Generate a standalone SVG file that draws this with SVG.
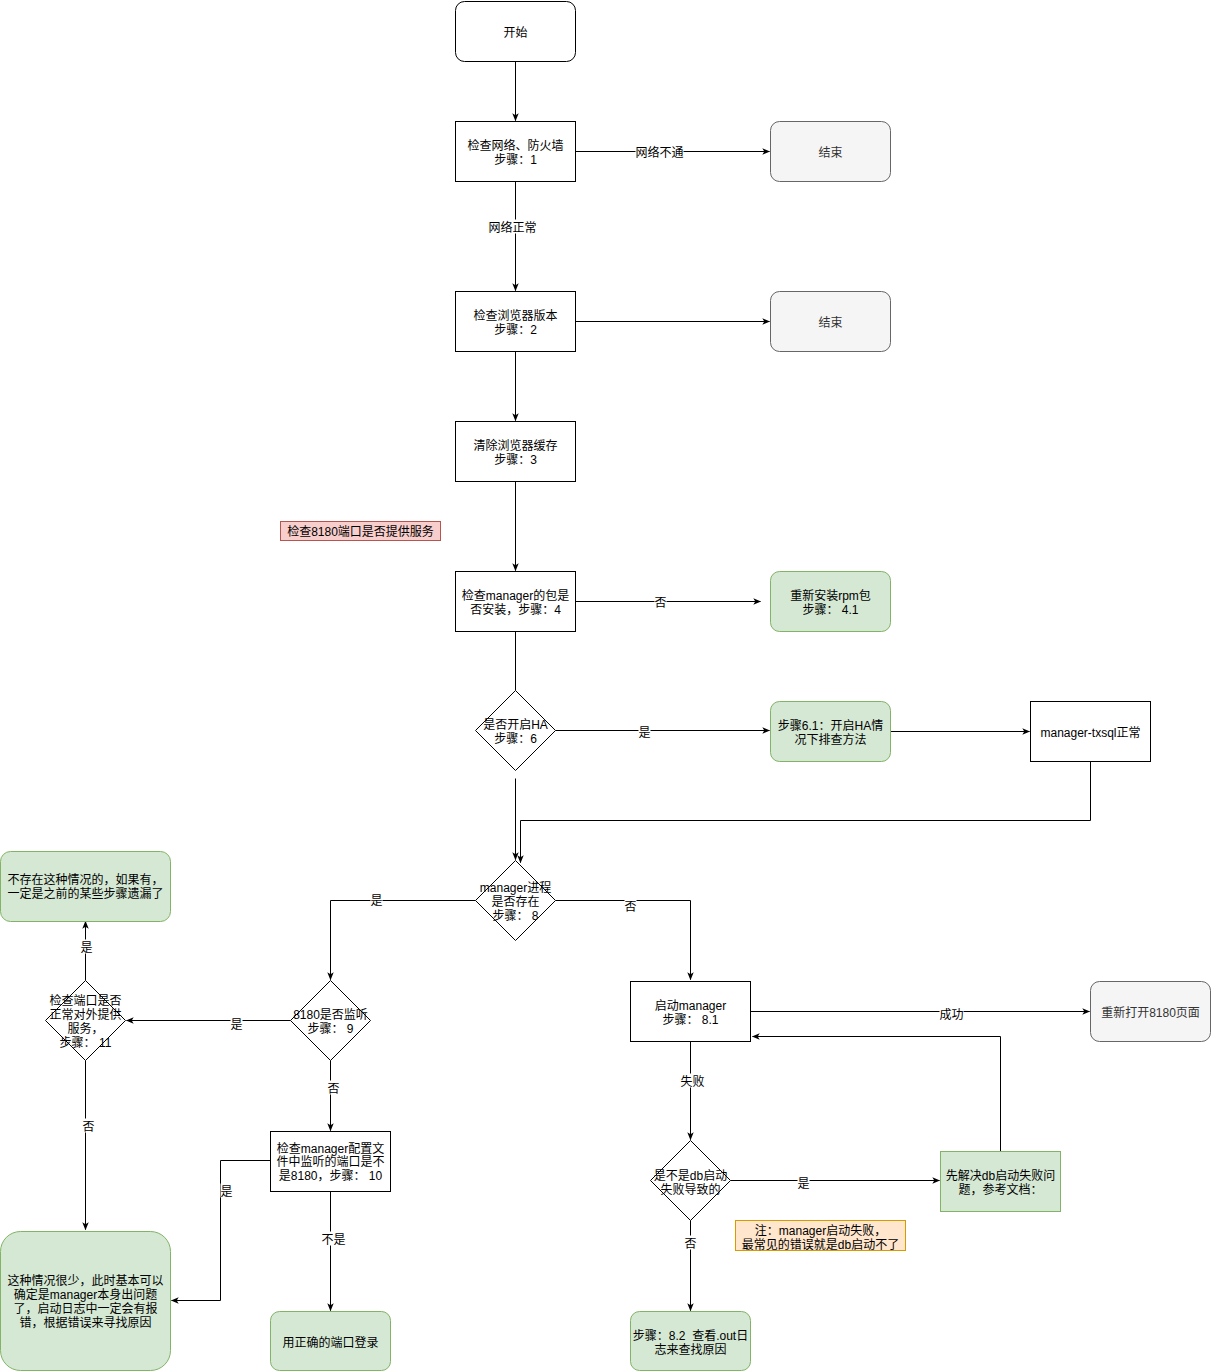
<svg xmlns="http://www.w3.org/2000/svg" width="1211" height="1371" viewBox="0 0 1211 1371">
<style>
text{font-family:"Liberation Sans","Noto Sans CJK SC",sans-serif;font-size:12px;fill:#000;text-anchor:middle;dominant-baseline:central}
.box{fill:#fff;stroke:#000;stroke-width:1}
.grn{fill:#d5e8d4;stroke:#82b366;stroke-width:1}
.gry{fill:#f5f5f5;stroke:#666;stroke-width:1}
.gt{fill:#333}
.red{fill:#f8cecc;stroke:#b85450}
.org{fill:#ffe6cc;stroke:#d79b00}
.e{fill:none;stroke:#000;stroke-width:1;marker-end:url(#arr)}
.n{fill:none;stroke:#000;stroke-width:1}
.lb{fill:#fff}
</style>
<defs>
<marker id="arr" viewBox="0 0 10 10" refX="9" refY="5" markerWidth="8" markerHeight="8" markerUnits="userSpaceOnUse" orient="auto">
<path d="M0,1 L10,5 L0,9 L2.5,5 Z" fill="#000"/>
</marker>
</defs>
<rect width="1211" height="1371" fill="#fff"/>
<g transform="translate(0.5,0.5)">
<g id="connectors">
<path class="e" d="M515,61V120"/>
<path class="e" d="M575,151H769"/>
<path class="e" d="M515,181V290"/>
<path class="e" d="M575,321H769"/>
<path class="e" d="M515,351V420"/>
<path class="e" d="M515,481V570"/>
<path class="e" d="M575,601H760"/>
<path class="n" d="M515,631V690"/>
<path class="e" d="M555,730H769"/>
<path class="e" d="M890,731H1029"/>
<path class="e" d="M1090,761V820H520V862"/>
<path class="e" d="M515,778V859"/>
<path class="e" d="M475,900H330V979"/>
<path class="e" d="M555,900H690V979"/>
<path class="e" d="M290,1020H126"/>
<path class="e" d="M85,980V921"/>
<path class="e" d="M85,1060V1229"/>
<path class="e" d="M330,1060V1130"/>
<path class="e" d="M270,1160H220V1300H171"/>
<path class="e" d="M330,1191V1310"/>
<path class="e" d="M750,1011H1089"/>
<path class="e" d="M690,1041V1139"/>
<path class="e" d="M730,1180H939"/>
<path class="e" d="M1000,1151V1036H752"/>
<path class="e" d="M690,1220V1310"/>
<rect class="lb" x="635" y="144" width="48" height="14"/><text x="659" y="152">网络不通</text>
<rect class="lb" x="488" y="219" width="48" height="14"/><text x="512" y="227">网络正常</text>
<rect class="lb" x="654" y="594" width="12" height="14"/><text x="660" y="602">否</text>
<rect class="lb" x="638" y="724" width="12" height="14"/><text x="644" y="732">是</text>
<rect class="lb" x="370" y="892" width="12" height="14"/><text x="376" y="900">是</text>
<rect class="lb" x="624" y="898" width="12" height="14"/><text x="630" y="906">否</text>
<rect class="lb" x="230" y="1016" width="12" height="14"/><text x="236" y="1024">是</text>
<rect class="lb" x="80" y="939" width="12" height="14"/><text x="86" y="947">是</text>
<rect class="lb" x="82" y="1118" width="12" height="14"/><text x="88" y="1126">否</text>
<rect class="lb" x="327" y="1080" width="12" height="14"/><text x="333" y="1088">否</text>
<rect class="lb" x="220" y="1183" width="12" height="14"/><text x="226" y="1191">是</text>
<rect class="lb" x="321" y="1231" width="24" height="14"/><text x="333" y="1239">不是</text>
<rect class="lb" x="939" y="1006" width="24" height="14"/><text x="951" y="1014">成功</text>
<rect class="lb" x="680" y="1073" width="24" height="14"/><text x="692" y="1081">失败</text>
<rect class="lb" x="797" y="1175" width="12" height="14"/><text x="803" y="1183">是</text>
<rect class="lb" x="684" y="1235" width="12" height="14"/><text x="690" y="1243">否</text>
</g>
<g id="start"><rect class="box" x="455" y="1" width="120" height="60" rx="9"/><text x="515" y="32">开始</text></g>
<g id="step1"><rect class="box" x="455" y="121" width="120" height="60"/><text x="515" y="145">检查网络、防火墙</text><text x="515" y="159">步骤：1</text></g>
<g id="end1"><rect class="gry" x="770" y="121" width="120" height="60" rx="9"/><text class="gt" x="830" y="152">结束</text></g>
<g id="step2"><rect class="box" x="455" y="291" width="120" height="60"/><text x="515" y="315">检查浏览器版本</text><text x="515" y="329">步骤：2</text></g>
<g id="end2"><rect class="gry" x="770" y="291" width="120" height="60" rx="9"/><text class="gt" x="830" y="322">结束</text></g>
<g id="step3"><rect class="box" x="455" y="421" width="120" height="60"/><text x="515" y="445">清除浏览器缓存</text><text x="515" y="459">步骤：3</text></g>
<g id="note8180"><rect class="red" x="280" y="521" width="160" height="19"/><text x="360" y="531">检查8180端口是否提供服务</text></g>
<g id="step4"><rect class="box" x="455" y="571" width="120" height="60"/><text x="515" y="595">检查manager的包是</text><text x="515" y="609">否安装，步骤：4</text></g>
<g id="rpm"><rect class="grn" x="770" y="571" width="120" height="60" rx="9"/><text x="830" y="595">重新安装rpm包</text><text x="830" y="609">步骤： 4.1</text></g>
<g id="step6"><path class="box" d="M515,690L555,730L515,770L475,730Z"/><text x="515" y="724">是否开启HA</text><text x="515" y="738">步骤：6</text></g>
<g id="step61"><rect class="grn" x="770" y="701" width="120" height="60" rx="9"/><text x="830" y="725">步骤6.1：开启HA情</text><text x="830" y="739">况下排查方法</text></g>
<g id="txsql"><rect class="box" x="1030" y="701" width="120" height="60"/><text x="1090" y="732">manager-txsql正常</text></g>
<g id="step8"><path class="box" d="M515,860L555,900L515,940L475,900Z"/><text x="515" y="887">manager进程</text><text x="515" y="901">是否存在</text><text x="515" y="915">步骤： 8</text></g>
<g id="step9"><path class="box" d="M330,980L370,1020L330,1060L290,1020Z"/><text x="330" y="1014">8180是否监听</text><text x="330" y="1028">步骤： 9</text></g>
<g id="step11"><path class="box" d="M85,980L125,1020L85,1060L45,1020Z"/><text x="85" y="1000">检查端口是否</text><text x="85" y="1014">正常对外提供</text><text x="85" y="1028">服务，</text><text x="85" y="1042">步骤： 11</text></g>
<g id="missing"><rect class="grn" x="0" y="851" width="170" height="70" rx="10"/><text x="85" y="879">不存在这种情况的，如果有，</text><text x="85" y="893">一定是之前的某些步骤遗漏了</text></g>
<g id="rare"><rect class="grn" x="0" y="1231" width="170" height="139" rx="20"/><text x="85" y="1280">这种情况很少，此时基本可以</text><text x="85" y="1294">确定是manager本身出问题</text><text x="85" y="1308">了，启动日志中一定会有报</text><text x="85" y="1322">错，根据错误来寻找原因</text></g>
<g id="step10"><rect class="box" x="270" y="1131" width="120" height="60"/><text x="330" y="1148">检查manager配置文</text><text x="330" y="1161">件中监听的端口是不</text><text x="330" y="1175">是8180，步骤： 10</text></g>
<g id="rightport"><rect class="grn" x="270" y="1311" width="120" height="59" rx="9"/><text x="330" y="1342">用正确的端口登录</text></g>
<g id="step81"><rect class="box" x="630" y="981" width="120" height="60"/><text x="690" y="1005">启动manager</text><text x="690" y="1019">步骤： 8.1</text></g>
<g id="reopen"><rect class="gry" x="1090" y="981" width="120" height="60" rx="9"/><text class="gt" x="1150" y="1012">重新打开8180页面</text></g>
<g id="dbfail"><path class="box" d="M690,1140L730,1180L690,1220L650,1180Z"/><text x="690" y="1175">是不是db启动</text><text x="690" y="1189">失败导致的</text></g>
<g id="fixdb"><rect class="grn" x="940" y="1151" width="120" height="60"/><text x="1000" y="1175">先解决db启动失败问</text><text x="1000" y="1189">题，参考文档：</text></g>
<g id="notedb"><rect class="org" x="735" y="1220" width="170" height="30"/><text x="820" y="1230">注：manager启动失败，</text><text x="820" y="1244">最常见的错误就是db启动不了</text></g>
<g id="step82"><rect class="grn" x="630" y="1311" width="120" height="59" rx="9"/><text x="690" y="1335" xml:space="preserve">步骤：8.2  查看.out日</text><text x="690" y="1349">志来查找原因</text></g>
</g>
</svg>
